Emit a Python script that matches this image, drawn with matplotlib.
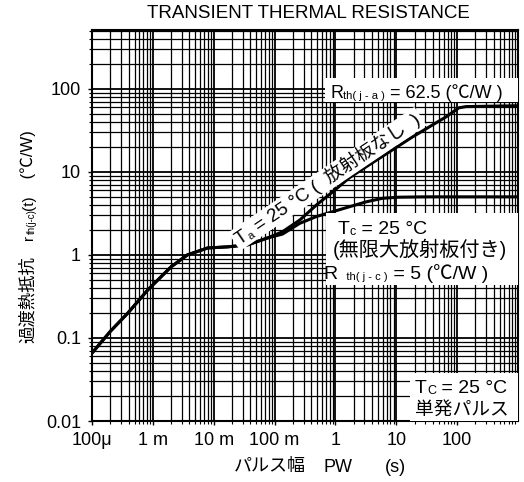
import numpy as np
import matplotlib
matplotlib.use("Agg")
import matplotlib.pyplot as plt
from matplotlib.ticker import FixedLocator, LogLocator, NullFormatter
from matplotlib.transforms import IdentityTransform
from matplotlib.patches import Polygon

plt.rcParams['font.family'] = ['Liberation Sans', 'Noto Sans CJK JP', 'DejaVu Sans']

# pulse width (s) and transient thermal resistance (C/W)
pw_ja = [1.04e-4, 2e-4, 3.9e-4, 8.3e-4, 2e-3, 3.7e-3, 7.9e-3, 1.7e-2, 3.6e-2, 7.7e-2, 0.135,
         0.26, 0.49, 0.89, 1.7, 3.2, 7.7, 18, 66, 107, 140, 1000]
r_ja = [0.068, 0.12, 0.2, 0.38, 0.72, 1.0, 1.21, 1.25, 1.32, 1.6, 1.9,
        2.63, 4.0, 5.7, 8.5, 11.5, 17.4, 26, 46, 59, 61, 62.5]

pw_jc = [1.04e-4, 2e-4, 3.9e-4, 8.3e-4, 2e-3, 3.7e-3, 7.9e-3, 1.7e-2, 3.6e-2, 7.7e-2, 0.135,
         0.26, 0.49, 0.89, 1.7, 3.2, 5.9, 11, 30, 1000]
r_jc = [0.068, 0.12, 0.2, 0.38, 0.72, 1.0, 1.21, 1.25, 1.32, 1.6, 1.78,
        2.4, 2.9, 3.3, 3.8, 4.35, 4.8, 4.95, 5.0, 5.0]

xticks = [1e-4, 1e-3, 1e-2, 1e-1, 1, 10, 100]
xticklabels = ['100μ', '1 m', '10 m', '100 m', '1', '10', '100']
yticks = [0.01, 0.1, 1, 10, 100]
yticklabels = ['0.01', '0.1', '1', '10', '100']

W, H, DPI = 524, 482, 100
fig = plt.figure(figsize=(W/DPI, H/DPI), dpi=DPI)
ax = fig.add_axes([92/W, 1-421/H, 426/W, 391/H])

ax.set_xscale('log')
ax.set_yscale('log')
ax.set_xlim(1e-4, 1000)
ax.set_ylim(0.01, 510)

ax.xaxis.set_major_locator(FixedLocator(xticks))
ax.set_xticklabels(xticklabels)
ax.yaxis.set_major_locator(FixedLocator(yticks))
ax.set_yticklabels(yticklabels)
ax.xaxis.set_minor_locator(LogLocator(base=10, subs=np.arange(2, 10), numticks=20))
ax.yaxis.set_minor_locator(LogLocator(base=10, subs=np.arange(2, 10), numticks=20))
ax.xaxis.set_minor_formatter(NullFormatter())
ax.yaxis.set_minor_formatter(NullFormatter())

ax.grid(True, which='major', color='black', lw=1.3)
ax.grid(True, which='minor', color='black', lw=0.9)
ax.tick_params(which='both', labelsize=13, colors='black')
ax.tick_params(which='major', length=3, width=1, pad=5)
ax.tick_params(which='minor', length=2, width=0.8)
for s in ax.spines.values():
    s.set_linewidth(1.5)

ax.plot(pw_ja, r_ja, color='black', lw=2.2, zorder=5)
ax.plot(pw_jc, r_jc, color='black', lw=2.2, zorder=5)

renderer = fig.canvas.get_renderer()


def ink(txt, fp):
    return renderer.get_text_width_height_descent(txt, fp, ismath=False)[0]


def metrics(txt, fp):
    # pen advance of txt and offset of its first ink from the pen, measured against bars
    bar = ink('|', fp)
    k = ink('||', fp) - 2 * bar
    adv = ink('|' + txt + '|', fp) - ink('||', fp)
    lead = ink('|' + txt, fp) - ink(txt, fp) - bar - k / 2
    return adv, lead


def rich(pieces, x, y, rot=0, bg=None):
    # pieces: (text, fontsize, baseline shift in pt); x, y: baseline start in image pixels
    a = np.deg2rad(rot)
    c, s = np.cos(a), np.sin(a)
    X, Y = x, H - y
    u = 0.0
    for txt, size, dv in pieces:
        dvp = dv * DPI / 72
        t = fig.text(0, 0, txt, fontsize=size, rotation=rot,
                     rotation_mode='anchor', ha='left', va='baseline',
                     transform=IdentityTransform(), zorder=8)
        adv, lead = metrics(txt, t.get_fontproperties())
        uu = u + lead
        t.set_position((X + uu*c - dvp*s, Y + uu*s + dvp*c))
        u += adv
    if bg is not None:
        u0, u1, v0, v1 = -bg[0], u + bg[0], -bg[1], bg[2]
        pts = [(X + p*c - q*s, Y + p*s + q*c) for p, q in
               [(u0, v0), (u1, v0), (u1, v1), (u0, v1)]]
        fig.add_artist(Polygon(pts, closed=True, facecolor='white', edgecolor='none',
                               transform=IdentityTransform(), zorder=7))
    return u


def white_box(x0, y0, x1, y1):
    pts = [(x0, H - y0), (x1, H - y0), (x1, H - y1), (x0, H - y1)]
    fig.add_artist(Polygon(pts, closed=True, facecolor='white', edgecolor='none',
                           transform=IdentityTransform(), zorder=7))


# R th(j-a) label
white_box(325, 78, 518, 102)
rich([('R', 13, 0), ('th( j - a )', 8, -1), (' = 62.5 (℃/W )', 13, 0)], 330, 98)

# Ta label along the upper curve
rich([('T', 13.5, 0), ('a', 8, -1.5), (' = 25 °C (  放射板なし  )', 13.5, 0)], 240, 245, rot=34,
     bg=(3, 5, 17))

# Tc box
white_box(326, 213, 518, 285)
rich([('T', 14, 0), ('c', 9, -1), (' = 25 °C', 14, 0)], 338, 234)
rich([('(無限大放射板付き)', 14.5, 0)], 333, 256)
rich([('R', 14, 0), ('   th( j - c )', 8, -1), (' = 5 (℃/W )', 14, 0)], 323, 279)

# single pulse box
white_box(410, 373, 518, 421)
rich([('T', 14, 0), ('C', 9, -1), (' = 25 °C', 14, 0)], 415, 393)
rich([('単発パルス', 13.5, 0)], 415, 415)

fig.text(308/W, 1-13/H, 'TRANSIENT THERMAL RESISTANCE', ha='center', va='center', fontsize=13.5)

# x label
fig.text(270/W, 1-467/H, 'パルス幅', ha='center', va='center', fontsize=13)
fig.text(338/W, 1-467/H, 'PW', ha='center', va='center', fontsize=13)
fig.text(395/W, 1-467/H, '(s)', ha='center', va='center', fontsize=13)

# y label, rotated, read bottom to top
rich([('過渡熱抵抗', 12.5, 0), ('　', 12, 0), ('r', 11, 0), ('th(j-c)', 7, -1.5),
      ('(t)', 11, 0), ('　(℃/W)', 12, 0)], 33, 343, rot=90)

fig.savefig('out.png', dpi=DPI)
